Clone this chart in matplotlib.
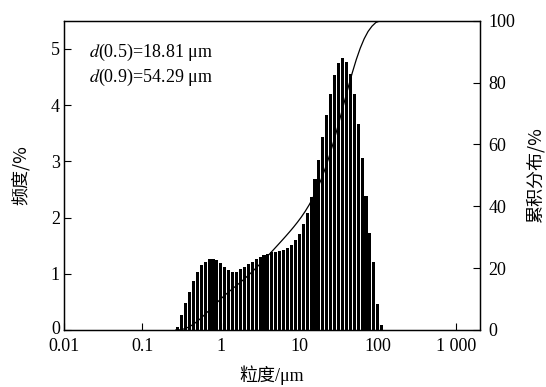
import numpy as np
import matplotlib
matplotlib.use('Agg')
import matplotlib.pyplot as plt
import matplotlib.transforms as mtransforms

plt.rcParams['font.family'] = ['Liberation Serif', 'Noto Sans CJK SC']
plt.rcParams['mathtext.fontset'] = 'stix'

# size classes: 20 per decade, k = index of the class centre 10**(k/20)
k_start = -11
freq = [0.05, 0.27, 0.48, 0.68, 0.88, 1.04, 1.15, 1.21, 1.26, 1.27, 1.24, 1.20, 1.12,
        1.07, 1.04, 1.04, 1.08, 1.12, 1.17, 1.21, 1.26, 1.30, 1.33, 1.36, 1.38, 1.39,
        1.40, 1.42, 1.46, 1.51, 1.60, 1.71, 1.88, 2.08, 2.37, 2.68, 3.03, 3.43, 3.82,
        4.20, 4.53, 4.74, 4.84, 4.77, 4.56, 4.20, 3.66, 3.05, 2.39, 1.72, 1.21, 0.47, 0.09]
x_ticks = [0.01, 0.1, 1, 10, 100, 1000]
x_ticklabels = ['0.01', '0.1', '1', '10', '100', '1 000']
d50 = 18.81
d90 = 54.29

freq = np.array(freq)
k = np.arange(k_start, k_start + len(freq))
left = 10 ** ((k - 0.42) / 20)
right = 10 ** ((k + 0.36) / 20)

# cumulative distribution from the bars, at the upper edge of each class
cum = np.cumsum(freq) / freq.sum() * 100
cx = np.concatenate([[10 ** ((k_start - 0.5) / 20)], 10 ** ((k + 0.5) / 20), [2000]])
cy = np.concatenate([[0], cum, [100]])

fig = plt.figure(figsize=(5.46, 3.87), dpi=100)
ax = fig.add_axes([0.1172, 0.1473, 0.7619, 0.7992])
ax.bar(left, freq, width=right - left, align='edge', color='black', linewidth=0)
ax.set_xscale('log')
ax.set_xlim(0.01, 2000)
ax.set_ylim(0, 5.5)
ax.set_xticks(x_ticks)
ax.set_xticklabels(x_ticklabels)
ax.minorticks_off()
ax.set_yticks([0, 1, 2, 3, 4, 5])
ax.tick_params(direction='in', length=5, width=0.8, labelsize=13, pad=3)
ax.tick_params(axis='x', pad=6)
ax.set_xlabel('粒度/μm', fontsize=13, labelpad=7)
ax.set_ylabel('频度/%', fontsize=13, labelpad=15, family=['Noto Sans CJK SC'])

# lift the left "0" a little so it sits just above "0.01"
lab0 = ax.get_yticklabels()[0]
lab0.set_transform(lab0.get_transform() + mtransforms.ScaledTranslation(0, 2 / 72, fig.dpi_scale_trans))

ax2 = ax.twinx()
ax2.plot(cx, cy, color='black', linewidth=0.9)
ax2.set_ylim(0, 100)
ax2.set_yticks([0, 20, 40, 60, 80, 100])
ax2.tick_params(direction='in', length=5, width=0.8, labelsize=13, pad=6)
ax2.set_ylabel('累积分布/%', fontsize=13, labelpad=8, family=['Noto Sans CJK SC'])
ax2.minorticks_off()

for a in (ax, ax2):
    for s in a.spines.values():
        s.set_linewidth(0.9)

ax.text(0.06, 0.896, r'$d$(0.5)=%.2f μm' % d50, transform=ax.transAxes, fontsize=13, va='center')
ax.text(0.06, 0.818, r'$d$(0.9)=%.2f μm' % d90, transform=ax.transAxes, fontsize=13, va='center')

fig.savefig('out.png', dpi=100)
